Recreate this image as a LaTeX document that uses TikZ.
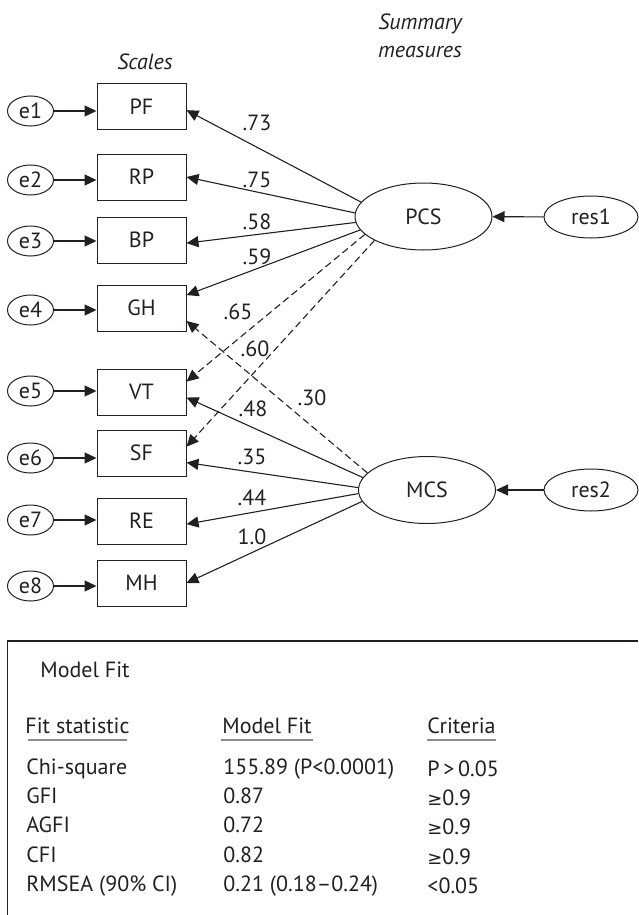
\documentclass[tikz,border=0pt]{standalone}
\usepackage{fontspec}
\setmainfont{PT Sans}
\newfontfamily\symfont{DejaVu Sans}
\usetikzlibrary{arrows.meta,calc,positioning,shapes.geometric}
\definecolor{Ink}{HTML}{231F20}
\definecolor{Rule}{HTML}{8A8A8A}

\begin{document}
\begin{tikzpicture}[x=0.5pt,y=-0.5pt,
  every node/.style={font=\fontsize{11}{14}\selectfont,text=Ink},
  scalebox/.style={draw=Ink,line width=0.5pt,minimum width=44.5pt,minimum height=23pt,inner sep=0pt},
  errnode/.style={ellipse,draw=Ink,line width=0.5pt,minimum width=23pt,minimum height=15pt,inner sep=0pt},
  latent/.style={ellipse,draw=Ink,line width=0.5pt,minimum width=68.5pt,minimum height=33.5pt,inner sep=0pt},
  resnode/.style={ellipse,draw=Ink,line width=0.5pt,minimum width=47pt,minimum height=21pt,inner sep=0pt},
  load/.style={-{Triangle[length=6pt,width=5.5pt]},draw=Ink,line width=0.55pt},
  crossload/.style={load,dash pattern=on 3.5pt off 2pt},
  coef/.style={inner sep=0pt},
  heading/.style={inner sep=0pt,font=\fontsize{11}{14}\selectfont\itshape,align=center},
  cell/.style={inner sep=0pt,anchor=base west},
  underline/.style={draw=Rule,line width=1pt}
]
\useasboundingbox (0,0) rectangle (638,915);

\node[heading] (scales) at (145,62) {Scales};
\node[heading] (summary) at (420,36) {Summary\\measures};

% observed scales and their errors
\foreach \n/\t/\y/\ey [count=\i] in {pf/PF/107/111,rp/RP/177/180,bp/BP/240/241,gh/GH/308/310,
    vt/VT/392/391,sf/SF/453/458,re/RE/521/520,mh/MH/583/586}{
  \node[scalebox] (\n) at (141.5,\y) {\t};
  \node[errnode] (e\i) at (30.5,\ey) {e\i};
  \draw[load] (e\i.east) -- (e\i.east -| \n.west);
}

\node[latent] (pcs) at (423.5,216.5) {PCS};
\node[latent] (mcs) at (427,490) {MCS};
\node[resnode] (res1) at (591,217) {res1};
\node[resnode] (res2) at (591,490) {res2};
\draw[load] (res1) -- (pcs);
\draw[load] (res2) -- (mcs);

% loadings
\foreach \a/\b/\c in {167.7/pf/-4,177/rp/0,185.4/bp/-4,192/gh/16.3}
  \draw[load] (pcs.\a) -- (\b.\c);
\foreach \a/\b/\c in {197/vt/13.9,206.8/sf/8.3}
  \draw[crossload] (pcs.\a) -- (\b.\c);
\foreach \a/\b/\c in {169.4/vt/-7.7,178/sf/-12,183.4/re/-4,190.5/mh/0}
  \draw[load] (mcs.\a) -- (\b.\c);
\draw[crossload] (mcs.164.7) -- (gh.-16.3);

\foreach \t/\x/\y [count=\i] in {.73/257/123,.75/257/180,.58/257/222,.59/257/257,.65/238/312,
    .60/255/349,.48/253/409,.35/252/457,.44/252/498,1.0/252/537,.30/312/398}
  \node[coef] (c\i) at (\x,\y) {\t};

% model fit table
\draw[draw=Ink,line width=0.6pt] (7.5,915) |- (638,641);
\node[cell] (fit) at (40,677) {Model Fit};
\node[inner sep=0pt,anchor=base] (h1) at (77.5,733) {Fit statistic};
\node[inner sep=0pt,anchor=base] (h2) at (267,733) {Model Fit};
\node[inner sep=0pt,anchor=base] (h3) at (461.5,733) {Criteria};
\draw[underline] (28,740) -- (127,740);
\draw[underline] (221,740) -- (313,740);
\draw[underline] (427,740) -- (496,740);

\foreach \s/\m/\k/\y [count=\i] in {Chi-square/155.89 (P<0.0001)/P\,>\,0.05/774,
    GFI/0.87/{\symfont\small≥}0.9/803,AGFI/0.72/{\symfont\small≥}0.9/832,
    CFI/0.82/{\symfont\small≥}0.9/862,RMSEA (90\% CI)/0.21 (0.18–0.24)/<0.05/891}{
  \node[cell] (s\i) at (26,\y) {\s};
  \node[cell] (m\i) at (223,\y) {\m};
  \node[cell] (k\i) at (427,\y+2) {\k};
}
\end{tikzpicture}
\end{document}
